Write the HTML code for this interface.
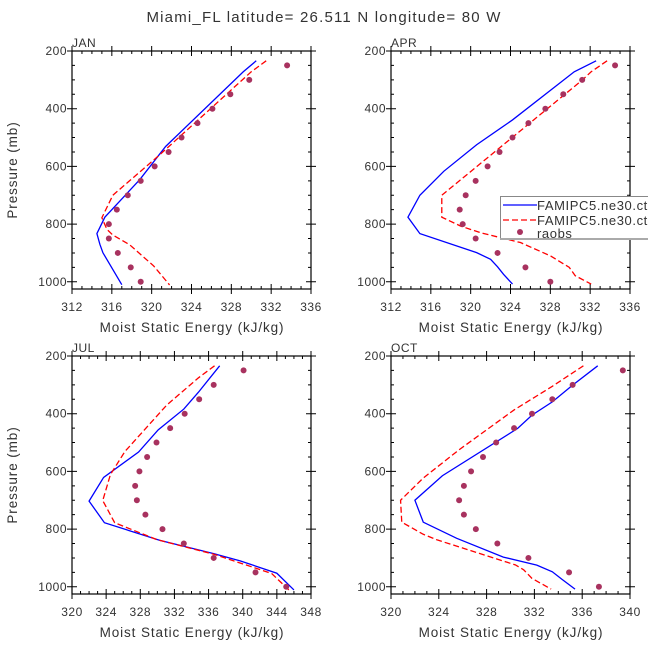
<!DOCTYPE html>
<html><head><meta charset="utf-8"><style>
body{margin:0;background:#fff;}
svg{display:block;font-family:"Liberation Sans",sans-serif;}
</style></head><body>
<svg id="c" width="648" height="649">
<text x="324" y="22" text-anchor="middle" font-size="15" letter-spacing="1.2" fill="#333">Miami_FL  latitude= 26.511 N longitude= 80 W</text>
</svg>
<script>
// pressure levels for observations
const obsP = [250,300,350,400,450,500,550,600,650,700,750,800,850,900,950,1000];
// JAN
const janObs = [333.6,329.8,327.9,326.1,324.6,323.0,321.7,320.3,318.9,317.6,316.5,315.7,315.7,316.6,317.9,318.9];
const janBlueP = [234,272,531,646,776,833,870,899,1010];
const janBlue = [330.5,329.2,321.4,318.8,315.3,314.5,314.8,315.1,317.0];
const janRedP = [234,272,560,700,778,818,838,872,945,1011];
const janRed = [331.5,330.0,320.8,316.1,315.0,315.5,316.1,317.8,320.2,321.8];
// APR
const aprObs = [334.5,331.2,329.3,327.5,325.8,324.2,322.9,321.7,320.5,319.5,318.9,319.2,320.5,322.7,325.5,328.0];
const aprBlueP = [234,272,439,525,617,700,776,833,899,922,948,974,1008];
const aprBlue = [332.6,330.4,324.2,320.6,317.3,314.9,313.7,314.9,320.6,322.0,322.7,323.3,324.2];
const aprRedP = [234,272,301,700,776,807,830,864,910,950,979,1008];
const aprRed = [333.7,332.1,331.2,317.1,317.1,319.0,321.0,325.0,328.0,329.9,330.5,332.1];
// JUL
const julObs = [340.1,336.6,334.9,333.2,331.5,329.9,328.8,327.9,327.4,327.6,328.6,330.6,333.1,336.6,341.5,345.1];
const julBlueP = [234,326,384,456,533,621,703,778,839,885,910,953,1011];
const julBlue = [337.3,334.8,333.1,330.1,327.8,323.7,322.0,323.8,330.3,336.6,339.7,344.0,346.0];
const julRedP = [234,276,370,531,611,701,778,836,887,954,1011];
const julRed = [336.7,334.8,331.1,326.2,324.5,323.6,325.0,329.9,336.6,343.4,345.4];
// OCT
const octObs = [339.4,335.2,333.5,331.8,330.3,328.8,327.7,326.7,326.1,325.7,326.1,327.1,328.9,331.5,334.9,337.4];
const octBlueP = [234,301,359,405,451,615,700,776,832,897,925,948,974,1008];
const octBlue = [337.3,335.2,333.5,331.8,330.6,324.3,322.0,322.7,325.5,329.4,332.2,333.5,334.3,335.4];
const octRedP = [234,305,387,525,623,700,776,818,838,924,941,971,1008];
const octRed = [336.1,333.5,330.3,325.7,322.7,320.8,320.9,322.7,323.9,330.4,331.1,331.8,333.4];
// axis ranges and ticks
const janTicks = [312,316,320,324,328,332,336];
const julTicks = [320,324,328,332,336,340,344,348];
const octTicks = [320,324,328,332,336,340];
const pTicks = [200,400,600,800,1000];

const NS='http://www.w3.org/2000/svg';
const svg=document.getElementById('c');
function mk(tag,attrs,parent){const e=document.createElementNS(NS,tag);for(const k in attrs)e.setAttribute(k,attrs[k]);(parent||svg).appendChild(e);return e;}

function panel(name,x0,y0,xt,obs,bP,bV,rP,rV){
  const x1=x0+239, yTop=y0, yBot=y0+238;
  const xmin=xt[0],xmax=xt[xt.length-1];
  const sx=v=>x0+(v-xmin)/(xmax-xmin)*239;
  const sy=p=>yTop+(p-200)/825*238;
  const g=mk('g',{});
  
  
  const t=mk('text',{x:x0,y:yTop-4,'font-size':12,fill:'#333','letter-spacing':0.5},g);t.textContent=name;
  
  
  let d='';
  for(let v=xmin;v<=xmax;v+=1){const X=sx(v);const maj=(v-xmin)%4===0;
    if(maj){d+=`M${X},${yBot+5}V${yBot-5}M${X},${yTop-5}V${yTop+5}`;}
    else{d+=`M${X},${yBot}V${yBot-3}M${X},${yTop}V${yTop+3}`;}}
  for(let p=200;p<=1000;p+=50){const Y=sy(p);const maj=p%200===0;
    if(maj){d+=`M${x0-5},${Y}H${x0+5}M${x1-5},${Y}H${x1+5}`;}
    else{d+=`M${x0},${Y}H${x0+3}M${x1},${Y}H${x1-3}`;}}
  const tk=mk('path',{d:d,stroke:'#000','stroke-width':1,fill:'none'},g);
  
  
  xt.forEach(v=>{const e=mk('text',{x:sx(v),y:yBot+22,'text-anchor':'middle','font-size':12,'letter-spacing':0.5,fill:'#333'},g);e.textContent=v;
    
    });
  pTicks.forEach(p=>{const e=mk('text',{x:x0-5,y:sy(p)+4,'text-anchor':'end','font-size':12,'letter-spacing':0.5,fill:'#333'},g);e.textContent=p;
    
    });
  const xl=mk('text',{x:x0+120,y:yBot+43,'text-anchor':'middle','font-size':13.5,'letter-spacing':0.9,fill:'#333'},g);xl.textContent='Moist Static Energy (kJ/kg)';
  
  
  if(x0<200){const yl=mk('text',{x:0,y:0,'text-anchor':'middle','font-size':13.5,'letter-spacing':0.9,fill:'#333',transform:`translate(${x0-55},${yTop+119}) rotate(-90)`},g);yl.textContent='Pressure (mb)';
    
    }
  const line=(P,V,col,dash,nm)=>{const e=mk('polyline',{points:P.map((p,i)=>sx(V[i])+','+sy(p)).join(' '),fill:'none',stroke:col,'stroke-width':1.3,'stroke-dasharray':dash},g);
    
    };
  line(bP,bV,'#0000ff','none','series-ctrl-blue');
  line(rP,rV,'#ff0000','6,3','series-ctrl-red');
  obs.forEach((v,i)=>{const c=mk('circle',{cx:sx(v),cy:sy(obsP[i]),r:3,fill:'#a8325f'},g);
    
    });
  const box=mk('rect',{x:x0,y:yTop,width:239,height:238,fill:'none',stroke:'#000','stroke-width':1.2},g);
  
  
}
panel('JAN',72,51,janTicks,janObs,janBlueP,janBlue,janRedP,janRed);
panel('APR',391,51,janTicks,aprObs,aprBlueP,aprBlue,aprRedP,aprRed);
panel('JUL',72,356,julTicks,julObs,julBlueP,julBlue,julRedP,julRed);
panel('OCT',391,356,octTicks,octObs,octBlueP,octBlue,octRedP,octRed);

// legend
const lg=mk('g',{});


mk('rect',{x:500.5,y:196.5,width:160,height:42,fill:'#fff',stroke:'#888','stroke-width':1},lg);
mk('line',{x1:500,y1:239,x2:648,y2:239,stroke:'#aaa','stroke-width':2},lg);
mk('line',{x1:503,y1:205,x2:537,y2:205,stroke:'#0000ff','stroke-width':1.3},lg);
mk('line',{x1:503,y1:220,x2:537,y2:220,stroke:'#ff0000','stroke-width':1.3,'stroke-dasharray':'6,3'},lg);
mk('circle',{cx:520,cy:232,r:3,fill:'#a8325f'},lg);
[['FAMIPC5.ne30.ct',210],['FAMIPC5.ne30.ct',225],['raobs',238]].forEach(a=>{const e=mk('text',{x:537,y:a[1],'font-size':13,'letter-spacing':0.6,fill:'#333'},lg);e.textContent=a[0];
  
  });
</script>
</body></html>
